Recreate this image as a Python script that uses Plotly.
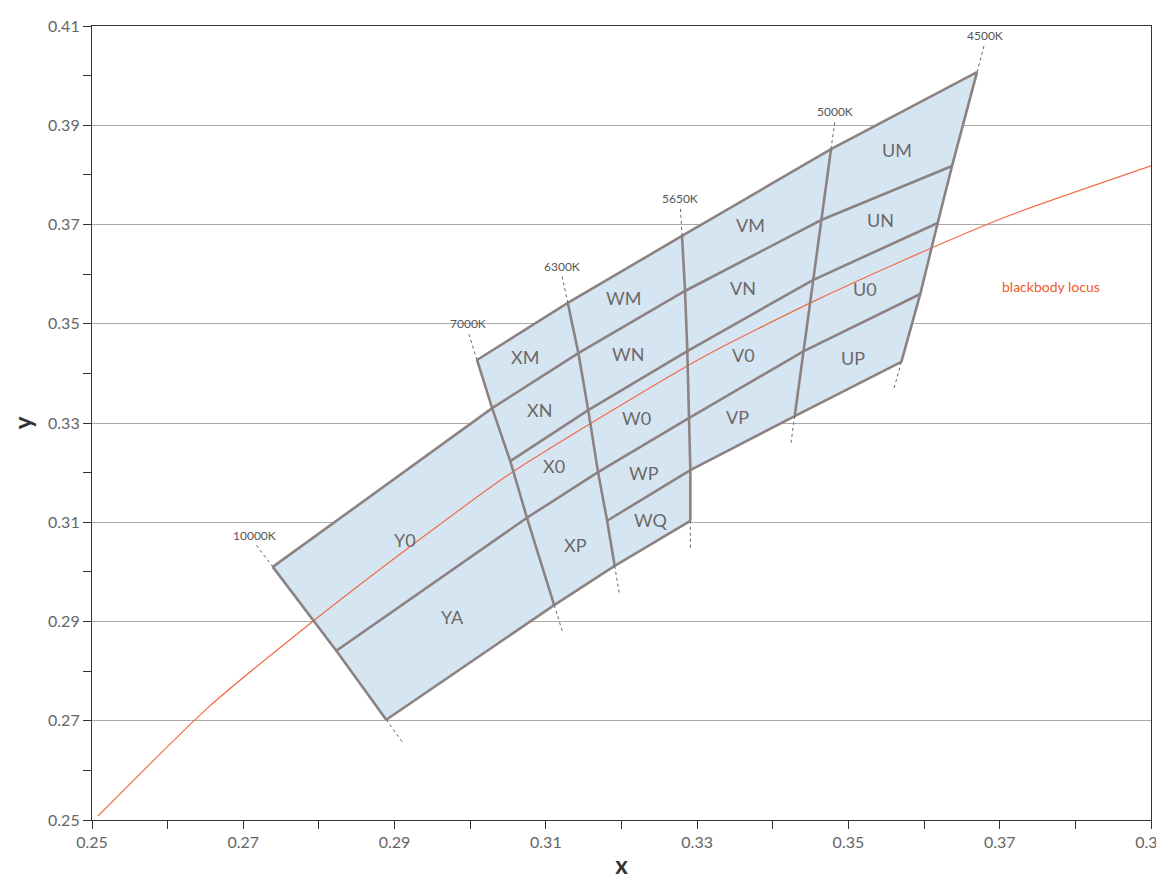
import plotly.graph_objects as go
import math

# Node coordinates (x, y) of each CCT line, rows: top, M/N, N/0, 0/P, P-bottom (=P/Q), Q-bottom
cct_names = ["10000K", "7000K", "6300K", "5650K", "5000K", "4500K"]
n10000 = {"MN": (0.2739, 0.3010), "0P": (0.2823, 0.2841), "QB": (0.2889, 0.2702)}
n7000 = {"T": (0.3009, 0.3427), "MN": (0.3029, 0.3330), "N0": (0.3053, 0.3223), "0P": (0.3075, 0.3109), "QB": (0.3111, 0.2933)}
n6300 = {"T": (0.3129, 0.3542), "MN": (0.3143, 0.3441), "N0": (0.3156, 0.3326), "0P": (0.3169, 0.3201), "PB": (0.3181, 0.3103), "QB": (0.3191, 0.3012)}
n5650 = {"T": (0.3280, 0.3677), "MN": (0.3284, 0.3566), "N0": (0.3287, 0.3445), "0P": (0.3289, 0.3310), "PB": (0.3291, 0.3205), "QB": (0.3291, 0.3103)}
n5000 = {"T": (0.3477, 0.3852), "MN": (0.3464, 0.3709), "N0": (0.3453, 0.3588), "0P": (0.3441, 0.3445), "PB": (0.3429, 0.3314)}
n4500 = {"T": (0.3670, 0.4007), "MN": (0.3637, 0.3818), "N0": (0.3618, 0.3703), "0P": (0.3595, 0.3560), "PB": (0.3570, 0.3423)}
nodes = [n10000, n7000, n6300, n5650, n5000, n4500]

bb_x = [0.2508, 0.2653, 0.2786, 0.2918, 0.3050, 0.3182, 0.3314, 0.3447, 0.3579, 0.3711, 0.3900]
bb_y = [0.2508, 0.2726, 0.2893, 0.3048, 0.3195, 0.3320, 0.3438, 0.3540, 0.3632, 0.3717, 0.3818]

region_names = ["UM", "UN", "U0", "UP", "VM", "VN", "V0", "VP", "WM", "WN", "W0", "WP", "WQ",
                "XM", "XN", "X0", "XP", "Y0", "YA"]
region_x = [0.3564, 0.3543, 0.3522, 0.3506, 0.3370, 0.3361, 0.3361, 0.3353, 0.3203, 0.3209, 0.3220, 0.3230, 0.3238,
            0.3072, 0.3091, 0.3111, 0.3139, 0.2914, 0.2977]
region_y = [0.3850, 0.3709, 0.3570, 0.3431, 0.3699, 0.3572, 0.3437, 0.3312, 0.3552, 0.3439, 0.3310, 0.3199, 0.3105,
            0.3433, 0.3326, 0.3213, 0.3054, 0.3064, 0.2909]

x_ticks = [0.25, 0.27, 0.29, 0.31, 0.33, 0.35, 0.37, 0.39]
y_ticks = [0.25, 0.27, 0.29, 0.31, 0.33, 0.35, 0.37, 0.39, 0.41]

GRAY = "#8c8282"
fig = go.Figure()

outline = [n10000["MN"], n7000["MN"], n7000["T"], n6300["T"], n5650["T"], n5000["T"], n4500["T"],
           n4500["MN"], n4500["N0"], n4500["0P"], n4500["PB"], n5000["PB"], n5650["PB"], n5650["QB"],
           n6300["QB"], n7000["QB"], n10000["QB"], n10000["0P"], n10000["MN"]]
fig.add_trace(go.Scatter(x=[p[0] for p in outline], y=[p[1] for p in outline], mode="lines",
                         fill="toself", fillcolor="#d5e6f2", line=dict(width=0), hoverinfo="skip"))

fig.add_trace(go.Scatter(x=bb_x, y=bb_y, mode="lines",
                         line=dict(color="#f26a45", width=1.2, shape="spline", smoothing=0.6)))

def line(pts):
    fig.add_trace(go.Scatter(x=[p[0] for p in pts], y=[p[1] for p in pts], mode="lines",
                             line=dict(color=GRAY, width=2.6)))

line([n7000["T"], n6300["T"], n5650["T"], n5000["T"], n4500["T"]])
line([n10000["MN"], n7000["MN"], n6300["MN"], n5650["MN"], n5000["MN"], n4500["MN"]])
line([n7000["N0"], n6300["N0"], n5650["N0"], n5000["N0"], n4500["N0"]])
line([n10000["0P"], n7000["0P"], n6300["0P"], n5650["0P"], n5000["0P"], n4500["0P"]])
line([n6300["PB"], n5650["PB"], n5000["PB"], n4500["PB"]])
line([n10000["QB"], n7000["QB"], n6300["QB"], n5650["QB"]])
order = ["T", "MN", "N0", "0P", "PB", "QB"]
for n in nodes:
    line([n[k] for k in order if k in n])

SX, SY = 7564, 4962
def extend(a, b, px):
    dx, dy = (a[0] - b[0]) * SX, (a[1] - b[1]) * SY
    L = math.hypot(dx, dy)
    return (a[0] + dx / L * px / SX, a[1] + dy / L * px / SY)

for name, n in zip(cct_names, nodes):
    pts = [n[k] for k in order if k in n]
    top_end = extend(pts[0], pts[1], 30)
    bot_end = extend(pts[-1], pts[-2], 30)
    for a, e in [(pts[0], top_end), (pts[-1], bot_end)]:
        fig.add_trace(go.Scatter(x=[a[0], e[0]], y=[a[1], e[1]], mode="lines",
                                 line=dict(color="#666", width=1, dash="3px,3px")))
    fig.add_annotation(x=top_end[0], y=top_end[1], text=name, showarrow=False, yanchor="bottom",
                       yshift=-2, font=dict(size=12, color="#555", family="Lato"))

for t, x, y in zip(region_names, region_x, region_y):
    fig.add_annotation(x=x, y=y, text=t, showarrow=False, font=dict(size=18, color="#6e6868", family="Lato"))

fig.add_annotation(x=0.3700, y=0.3575, text="blackbody locus", showarrow=False, xanchor="left",
                   font=dict(size=14, color="#f05a28", family="Lato"))

axis_common = dict(showline=True, linecolor="#333", linewidth=1.2, mirror=True, ticks="outside",
                   ticklen=8, tickcolor="#333", tickfont=dict(size=16, color="#666", family="Lato"),
                   zeroline=False, automargin=False,
                   minor=dict(ticks="outside", ticklen=8, tickcolor="#333", dtick=0.01))
fig.update_xaxes(range=[0.25, 0.39], tickvals=x_ticks, ticktext=[f"{v:.2f}" for v in x_ticks],
                 showgrid=False, title=dict(text="<b>x</b>", font=dict(size=24, color="#333", family="Lato"), standoff=6),
                 **axis_common)
fig.update_yaxes(range=[0.25, 0.41], tickvals=y_ticks, ticktext=[f"{v:.2f}" for v in y_ticks],
                 showgrid=True, gridcolor="#aaaaaa", gridwidth=1,
                 title=dict(text="<b>y</b>", font=dict(size=24, color="#333", family="Lato"), standoff=10),
                 **axis_common)
fig.update_layout(width=1164, height=877, margin=dict(l=84, r=21, t=18, b=65), showlegend=False,
                  plot_bgcolor="white", paper_bgcolor="white")
fig.write_html("out.html")
